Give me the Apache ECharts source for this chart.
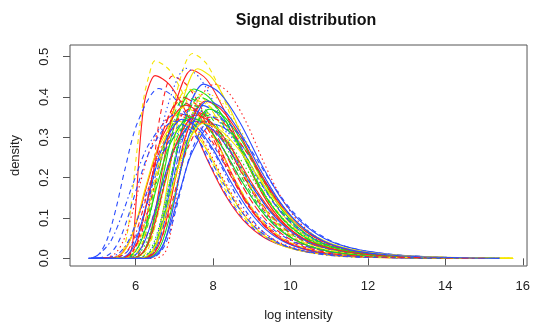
<!DOCTYPE html>
<html><head><meta charset="utf-8">
<script src="https://cdn.jsdelivr.net/npm/echarts@6/dist/echarts.min.js"></script>
<style>html,body{margin:0;padding:0;background:#fff}#c{width:533px;height:328px}</style>
</head><body><div id="c"></div><script>
const xTicks=[6,8,10,12,14,16];
const yTicks=[0,0.1,0.2,0.3,0.4,0.5];
const c01=[[5.3,0],[5.48,0],[5.66,.015],[5.78,.059],[5.9,.147],[6.02,.255],[6.2,.392],[6.35,.455],[6.5,.49],[6.88,.466],[7.355,.382],[7.83,.27],[8.305,.172],[8.78,.103],[9.35,.054],[10.015,.027],[10.775,.012],[11.725,.004],[15.75,0]];
const c02=[[5.1,0],[5.75,0],[5.87,.014],[5.95,.06],[6.02,.15],[6.1,.27],[6.2,.37],[6.3,.415],[6.5,.453],[6.88,.43],[7.355,.353],[7.83,.249],[8.305,.159],[8.78,.095],[9.35,.05],[10.015,.025],[10.775,.011],[11.725,.004],[15.1,0]];
const c03=[[4.78,0],[4.95,.003],[5.1,.016],[5.28,.051],[5.5,.126],[5.72,.219],[6.05,.337],[6.6,.421],[6.98,.40],[7.455,.328],[7.93,.232],[8.405,.147],[8.88,.088],[9.45,.046],[10.115,.023],[10.875,.011],[11.825,.004],[15.4,0]];
const c04=[[5.15,0],[5.93,0],[6.11,.014],[6.23,.054],[6.35,.136],[6.47,.235],[6.65,.362],[6.95,.452],[7.33,.429],[7.805,.353],[8.28,.249],[8.755,.158],[9.23,.095],[9.8,.05],[10.465,.025],[11.225,.011],[12.175,.004],[15.1,0]];
const c05=[[5.5,0],[6.025,0],[6.28,.015],[6.45,.061],[6.62,.152],[6.79,.264],[7.045,.406],[7.47,.508],[7.83,.483],[8.28,.396],[8.73,.279],[9.18,.178],[9.63,.107],[10.17,.056],[10.8,.028],[11.52,.013],[12.42,.005],[15.75,0]];
const c06=[[5.15,0],[5.92,0],[6.19,.014],[6.37,.056],[6.55,.14],[6.73,.243],[7.0,.374],[7.45,.467],[7.83,.444],[8.305,.364],[8.78,.257],[9.255,.163],[9.73,.098],[10.3,.051],[10.965,.026],[11.725,.012],[12.675,.004],[15.1,0]];
const c07=[[4.85,0],[5.685,0],[5.97,.014],[6.16,.057],[6.35,.141],[6.54,.245],[6.825,.377],[7.3,.471],[7.66,.447],[8.11,.367],[8.56,.259],[9.01,.165],[9.46,.099],[10.0,.052],[10.63,.026],[11.35,.012],[12.25,.004],[15.4,0]];
const c08=[[5.5,0],[6.155,0],[6.41,.014],[6.58,.056],[6.75,.141],[6.92,.244],[7.175,.376],[7.6,.47],[7.98,.447],[8.455,.367],[8.93,.259],[9.405,.165],[9.88,.099],[10.45,.052],[11.115,.026],[11.875,.012],[12.825,.004],[15.75,0]];
const c09=[[4.9,0],[6.135,0],[6.42,.013],[6.61,.052],[6.8,.13],[6.99,.225],[7.275,.346],[7.75,.432],[8.17,.41],[8.695,.337],[9.22,.238],[9.745,.151],[10.27,.091],[10.9,.048],[11.635,.024],[12.475,.011],[13.525,.004],[15.4,0]];
const c10=[[5.2,0],[6.5,0],[6.75,.013],[6.9,.06],[7.02,.13],[7.15,.22],[7.32,.31],[7.6,.39],[8.05,.432],[8.41,.41],[8.86,.337],[9.31,.238],[9.76,.151],[10.21,.091],[10.75,.048],[11.38,.024],[12.1,.011],[13.0,.004],[15.1,0]];
const c11=[[4.9,0],[6.215,0],[6.53,.01],[6.74,.04],[6.95,.1],[7.16,.173],[7.475,.266],[8.0,.333],[8.4,.316],[8.9,.26],[9.4,.183],[9.9,.117],[10.4,.07],[11.0,.037],[11.7,.018],[12.5,.008],[13.5,.003],[15.4,0]];
const c12=[[5.4,0],[5.885,0],[6.17,.013],[6.36,.05],[6.55,.126],[6.74,.218],[7.025,.336],[7.5,.42],[7.9,.399],[8.4,.328],[8.9,.231],[9.4,.147],[9.9,.088],[10.5,.046],[11.2,.023],[12.0,.011],[13.0,.004],[15.2,0]];
const c13=[[5.4,0],[5.77,0],[6.04,.012],[6.22,.048],[6.4,.12],[6.58,.208],[6.85,.32],[7.3,.40],[7.7,.38],[8.2,.312],[8.7,.22],[9.2,.14],[9.7,.084],[10.3,.044],[11.0,.022],[11.8,.01],[12.8,.004],[15.2,0]];
const c14=[[5.15,0],[5.585,0],[5.87,.012],[6.06,.048],[6.25,.12],[6.44,.208],[6.725,.32],[7.2,.40],[7.58,.38],[8.055,.312],[8.53,.22],[9.005,.14],[9.48,.084],[10.05,.044],[10.715,.022],[11.475,.01],[12.425,.004],[15.1,0]];
const c15=[[4.78,0],[4.9,.002],[5.07,.011],[5.36,.043],[5.65,.108],[5.94,.187],[6.375,.288],[7.1,.36],[7.5,.342],[8.0,.281],[8.5,.198],[9.0,.126],[9.5,.076],[10.1,.04],[10.8,.02],[11.6,.009],[12.6,.003],[15.4,0]];
const c16=[[5.5,0],[5.9,0],[6.2,.012],[6.4,.047],[6.6,.117],[6.8,.203],[7.1,.312],[7.6,.39],[8.0,.37],[8.5,.304],[9.0,.215],[9.5,.137],[10.0,.082],[10.6,.043],[11.3,.021],[12.1,.01],[13.1,.004],[15.75,0]];
const c17=[[5.4,0],[6.0,0],[6.3,.011],[6.5,.046],[6.7,.114],[6.9,.198],[7.2,.304],[7.7,.38],[8.08,.361],[8.555,.296],[9.03,.209],[9.505,.133],[9.98,.08],[10.55,.042],[11.215,.021],[11.975,.01],[12.925,.003],[15.2,0]];
const c18=[[5.15,0],[5.53,0],[5.86,.011],[6.08,.044],[6.3,.111],[6.52,.192],[6.85,.296],[7.4,.37],[7.8,.352],[8.3,.289],[8.8,.204],[9.3,.13],[9.8,.078],[10.4,.041],[11.1,.02],[11.9,.009],[12.9,.003],[15.1,0]];
const c19=[[4.85,0],[5.36,0],[5.72,.011],[5.96,.042],[6.2,.105],[6.44,.182],[6.8,.28],[7.4,.35],[7.78,.333],[8.255,.273],[8.73,.193],[9.205,.123],[9.68,.074],[10.25,.039],[10.915,.019],[11.675,.009],[12.625,.003],[15.4,0]];
const c20=[[5.4,0],[5.885,0],[6.17,.011],[6.36,.043],[6.55,.108],[6.74,.187],[7.025,.288],[7.5,.36],[7.9,.342],[8.4,.281],[8.9,.198],[9.4,.126],[9.9,.076],[10.5,.04],[11.2,.02],[12.0,.009],[13.0,.003],[15.2,0]];
const c21=[[5.5,0],[6.1,0],[6.4,.011],[6.6,.043],[6.8,.108],[7.0,.187],[7.3,.288],[7.8,.36],[8.22,.342],[8.745,.281],[9.27,.198],[9.795,.126],[10.32,.076],[10.95,.04],[11.685,.02],[12.525,.009],[13.575,.003],[15.75,0]];
const c22=[[5.1,0],[5.26,0],[5.62,.011],[5.86,.046],[6.1,.114],[6.34,.198],[6.7,.304],[7.3,.38],[7.64,.361],[8.065,.296],[8.49,.209],[8.915,.133],[9.34,.08],[9.85,.042],[10.445,.021],[11.125,.01],[11.975,.003],[15.1,0]];
const c23=[[4.9,0],[6.17,0],[6.44,.011],[6.62,.046],[6.8,.114],[6.98,.198],[7.25,.304],[7.7,.38],[8.1,.361],[8.6,.296],[9.1,.209],[9.6,.133],[10.1,.08],[10.7,.042],[11.4,.021],[12.2,.01],[13.2,.003],[15.4,0]];
const c24=[[5.4,0],[6.2,0],[6.5,.011],[6.7,.044],[6.9,.111],[7.1,.192],[7.4,.296],[7.9,.37],[8.28,.352],[8.755,.289],[9.23,.204],[9.705,.13],[10.18,.078],[10.75,.041],[11.415,.02],[12.175,.009],[13.125,.003],[15.2,0]];
const c25=[[5.15,0],[5.645,0],[5.99,.01],[6.22,.041],[6.45,.104],[6.68,.179],[7.025,.276],[7.6,.345],[7.96,.328],[8.41,.269],[8.86,.19],[9.31,.121],[9.76,.072],[10.3,.038],[10.93,.019],[11.65,.009],[12.55,.003],[15.1,0]];
const c26=[[5.2,0],[5.315,0],[5.63,.01],[5.84,.041],[6.05,.102],[6.26,.177],[6.575,.272],[7.1,.34],[7.44,.323],[7.865,.265],[8.29,.187],[8.715,.119],[9.14,.071],[9.65,.037],[10.245,.019],[10.925,.009],[11.775,.003],[15.75,0]];
const c27=[[4.9,0],[5.68,0],[6.01,.01],[6.23,.041],[6.45,.102],[6.67,.177],[7.0,.272],[7.55,.34],[7.95,.323],[8.45,.265],[8.95,.187],[9.45,.119],[9.95,.071],[10.55,.037],[11.25,.019],[12.05,.009],[13.05,.003],[15.4,0]];
const c28=[[5.4,0],[6.015,0],[6.33,.011],[6.54,.043],[6.75,.107],[6.96,.185],[7.275,.284],[7.8,.355],[8.2,.337],[8.7,.277],[9.2,.195],[9.7,.124],[10.2,.075],[10.8,.039],[11.5,.02],[12.3,.009],[13.3,.003],[15.2,0]];
const c29=[[5.1,0],[5.38,0],[5.71,.011],[5.93,.043],[6.15,.107],[6.37,.185],[6.7,.284],[7.25,.355],[7.61,.337],[8.06,.277],[8.51,.195],[8.96,.124],[9.41,.075],[9.95,.039],[10.58,.02],[11.3,.009],[12.2,.003],[15.1,0]];
const c30=[[4.85,0],[5.14,0],[5.53,.01],[5.79,.039],[6.05,.098],[6.31,.169],[6.7,.26],[7.35,.325],[7.67,.309],[8.07,.254],[8.47,.179],[8.87,.114],[9.27,.068],[9.75,.036],[10.31,.018],[10.95,.008],[11.75,.003],[15.4,0]];
const c31=[[5.5,0],[6.355,0],[6.61,.012],[6.78,.049],[6.95,.123],[7.12,.213],[7.375,.328],[7.8,.41],[8.2,.39],[8.7,.32],[9.2,.226],[9.7,.144],[10.2,.086],[10.8,.045],[11.5,.023],[12.3,.01],[13.3,.004],[15.75,0]];
const c32=[[5.15,0],[6.185,0],[6.47,.012],[6.66,.047],[6.85,.117],[7.04,.203],[7.325,.312],[7.8,.39],[8.2,.37],[8.7,.304],[9.2,.215],[9.7,.137],[10.2,.082],[10.8,.043],[11.5,.021],[12.3,.01],[13.3,.004],[15.1,0]];
const c33=[[4.9,0],[6.3,0],[6.6,.011],[6.8,.042],[7.0,.105],[7.2,.182],[7.5,.28],[8.0,.35],[8.42,.333],[8.945,.273],[9.47,.193],[9.995,.123],[10.52,.074],[11.15,.039],[11.885,.019],[12.725,.009],[13.775,.003],[15.4,0]];
const c34=[[5.4,0],[5.65,0],[5.95,.012],[6.15,.046],[6.35,.116],[6.55,.2],[6.85,.308],[7.35,.385],[7.73,.366],[8.205,.3],[8.68,.212],[9.155,.135],[9.63,.081],[10.2,.042],[10.865,.021],[11.625,.01],[12.575,.003],[15.2,0]];
const c35=[[5.0,0],[5.13,0],[5.46,.011],[5.68,.043],[5.9,.108],[6.12,.187],[6.45,.288],[7.0,.36],[7.36,.342],[7.81,.281],[8.26,.198],[8.71,.126],[9.16,.076],[9.7,.04],[10.33,.02],[11.05,.009],[11.95,.003],[15.1,0]];
const c36=[[5.5,0],[5.735,0],[6.02,.013],[6.21,.05],[6.4,.126],[6.59,.218],[6.875,.336],[7.35,.42],[7.73,.399],[8.205,.328],[8.68,.231],[9.155,.147],[9.63,.088],[10.2,.046],[10.865,.023],[11.625,.011],[12.575,.004],[15.75,0]];
const c37=[[4.9,0],[5.5,0],[5.8,.01],[6.0,.041],[6.2,.104],[6.4,.179],[6.7,.276],[7.2,.345],[7.56,.328],[8.01,.269],[8.46,.19],[8.91,.121],[9.36,.072],[9.9,.038],[10.53,.019],[11.25,.009],[12.15,.003],[15.4,0]];
const c38=[[5.4,0],[6.12,0],[6.39,.012],[6.57,.048],[6.75,.12],[6.93,.208],[7.2,.32],[7.65,.40],[8.03,.38],[8.505,.312],[8.98,.22],[9.455,.14],[9.93,.084],[10.5,.044],[11.165,.022],[11.925,.01],[12.875,.004],[15.2,0]];
const c39=[[5.15,0],[5.85,0],[6.15,.011],[6.35,.043],[6.55,.107],[6.75,.185],[7.05,.284],[7.55,.355],[7.95,.337],[8.45,.277],[8.95,.195],[9.45,.124],[9.95,.075],[10.55,.039],[11.25,.02],[12.05,.009],[13.05,.003],[15.1,0]];
const c40=[[4.9,0],[6.035,0],[6.32,.011],[6.51,.044],[6.7,.11],[6.89,.19],[7.175,.292],[7.65,.365],[8.07,.347],[8.595,.285],[9.12,.201],[9.645,.128],[10.17,.077],[10.8,.04],[11.535,.02],[12.375,.009],[13.425,.003],[15.4,0]];
const c41=[[5.4,0],[5.615,0],[5.93,.011],[6.14,.042],[6.35,.105],[6.56,.182],[6.875,.28],[7.4,.35],[7.78,.333],[8.255,.273],[8.73,.193],[9.205,.123],[9.68,.074],[10.25,.039],[10.915,.019],[11.675,.009],[12.625,.003],[15.2,0]];
const c42=[[5.5,0],[5.635,0],[5.92,.011],[6.11,.045],[6.3,.113],[6.49,.195],[6.775,.3],[7.25,.375],[7.61,.356],[8.06,.293],[8.51,.206],[8.96,.131],[9.41,.079],[9.95,.041],[10.58,.021],[11.3,.009],[12.2,.003],[15.75,0]];
const c43=[[5.15,0],[6.115,0],[6.43,.011],[6.64,.042],[6.85,.105],[7.06,.182],[7.375,.28],[7.9,.35],[8.3,.333],[8.8,.273],[9.3,.193],[9.8,.123],[10.3,.074],[10.9,.039],[11.6,.019],[12.4,.009],[13.4,.003],[15.1,0]];
const c44=[[4.8,0],[4.96,0],[5.32,.01],[5.56,.041],[5.8,.102],[6.04,.177],[6.4,.272],[7.0,.34],[7.36,.323],[7.81,.265],[8.26,.187],[8.71,.119],[9.16,.071],[9.7,.037],[10.33,.019],[11.05,.009],[11.95,.003],[15.4,0]];
const c45=[[5.4,0],[5.73,0],[6.06,.01],[6.28,.041],[6.5,.104],[6.72,.179],[7.05,.276],[7.6,.345],[8.02,.328],[8.545,.269],[9.07,.19],[9.595,.121],[10.12,.072],[10.75,.038],[11.485,.019],[12.325,.009],[13.375,.003],[15.2,0]];
const c46=[[5.5,0],[6.05,0],[6.35,.01],[6.55,.04],[6.75,.101],[6.95,.174],[7.25,.268],[7.75,.335],[8.19,.318],[8.74,.261],[9.29,.184],[9.84,.117],[10.39,.07],[11.05,.037],[11.82,.018],[12.7,.008],[13.8,.003],[15.75,0]];
const c47=[[5.15,0],[5.62,0],[5.89,.012],[6.07,.047],[6.25,.117],[6.43,.203],[6.7,.312],[7.15,.39],[7.51,.371],[7.96,.304],[8.41,.215],[8.86,.137],[9.31,.082],[9.85,.043],[10.48,.021],[11.2,.01],[12.1,.004],[15.1,0]];
const c48=[[4.9,0],[6.32,0],[6.59,.012],[6.77,.047],[6.95,.117],[7.13,.203],[7.4,.312],[7.85,.39],[8.25,.371],[8.75,.304],[9.25,.215],[9.75,.137],[10.25,.082],[10.85,.043],[11.55,.021],[12.35,.01],[13.35,.004],[15.4,0]];

const curves=[c01,c02,c03,c04,c05,c06,c07,c08,c09,c10,c11,c12,c13,c14,c15,c16,c17,c18,c19,c20,c21,c22,c23,c24,c25,c26,c27,c28,c29,c30,c31,c32,c33,c34,c35,c36,c37,c38,c39,c40,c41,c42,c43,c44,c45,c46,c47,c48];
const curveColor=['Y','R','B','R','Y','R','B','Y','B','R','B','G','G','R','B','Y','G','R','B','G','Y','R','B','G','R','Y','B','G','R','B','Y','R','B','G','R','Y','B','G','R','B','G','Y','R','B','G','Y','R','B'];
const curveLty=['dash','solid','dash','dash','dash','solid','dot','solid','solid','dot','solid','solid','dash','longdash','dotdash','dotdash','dot','twodash','dash','twodash','dash','solid','longdash','solid','dash','solid','solid','dash','dotdash','dotdash','dot','solid','dash','dotdash','dot','twodash','solid','longdash','solid','dot','solid','dash','dash','dash','dot','solid','twodash','solid'];

const palette={R:'#ff2020',B:'#2a4bff',G:'#1ed81e',Y:'#f5e600'};
const dashes={solid:'solid',dash:[5,4],dot:[1.5,3],dotdash:[1.5,3,5,3],longdash:[8,3],twodash:[3,3,7,3]};
const F='Liberation Sans, Arial, Helvetica, sans-serif';

const chart=echarts.init(document.getElementById('c'),null,{renderer:'canvas'});
chart.setOption({
  animation:false,
  title:{text:'Signal distribution',left:301,top:8,textAlign:'center',
    textStyle:{fontFamily:F,fontSize:16,fontWeight:'bold',color:'#111'}},
  grid:{left:70,top:45,right:2,bottom:62,show:true,borderColor:'#555',borderWidth:1,backgroundColor:'transparent'},
  xAxis:{type:'value',min:4.305,max:16.11,
    axisLine:{show:false},splitLine:{show:false},
    axisTick:{show:true,length:7,customValues:xTicks,lineStyle:{color:'#555'}},
    axisLabel:{customValues:xTicks,margin:14,fontSize:13,color:'#222',fontFamily:F},
    name:'log intensity',nameLocation:'middle',nameGap:43,
    nameTextStyle:{fontSize:13,color:'#222',fontFamily:F}},
  yAxis:{type:'value',min:-0.019,max:0.529,
    axisLine:{show:false},splitLine:{show:false},
    axisTick:{show:true,length:7,customValues:yTicks,lineStyle:{color:'#555'}},
    axisLabel:{customValues:yTicks,rotate:90,margin:19,fontSize:13,color:'#222',fontFamily:F,
      formatter:v=>v.toFixed(1)},
    name:'density',nameLocation:'middle',nameGap:48,nameRotate:90,
    nameTextStyle:{fontSize:13,color:'#222',fontFamily:F}},
  series:curves.map((d,i)=>({
    type:'line',data:d,smooth:0.3,symbol:'none',silent:true,clip:true,
    lineStyle:{color:palette[curveColor[i]],width:1.1,type:dashes[curveLty[i]]}
  }))
});
</script></body></html>
